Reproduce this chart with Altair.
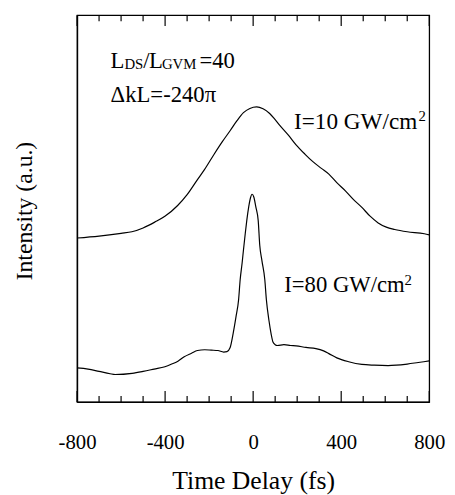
import altair as alt
import pandas as pd

# --- data ---
t_low = [-800, -700, -600, -551, -500, -447, -401, -343, -300, -253, -222, -178,
         -140, -104, -75, -44, -15, 16, 45, 75, 100, 120, 160, 195, 235, 270, 310,
         344, 380, 419, 455, 494, 530, 568, 605, 643, 700, 778, 800]
i_low = [42.4, 42.9, 43.6, 44.0, 45.0, 46.5, 48.0, 50.8, 53.6, 57.5, 60.0, 64.0,
         67.3, 70.2, 72.6, 74.8, 75.9, 76.3, 75.8, 74.6, 73.0, 71.6, 69.0, 66.5, 64.1,
         62.2, 60.4, 58.9, 56.7, 54.6, 52.4, 50.3, 48.1, 46.3, 45.2, 44.6, 44.0, 43.5, 43.2]

t_high = [-800, -750, -700, -650, -627, -550, -500, -450, -401, -370, -340, -313,
          -280, -253, -220, -190, -160, -134, -119, -105, -90, -78, -66, -59, -50,
          -44, -36, -29, -20, -12, -5, 3, 12, 23, 30, 40, 53, 60, 72, 82, 90, 100,
          110, 140, 170, 195, 240, 285, 320, 344, 380, 434, 494, 550, 613, 650,
          700, 750, 800]
i_high = [8.8, 8.5, 7.9, 7.3, 7.1, 7.4, 7.9, 8.5, 9.1, 9.8, 10.6, 11.7,
          12.6, 13.3, 13.5, 13.4, 13.3, 12.9, 13.0, 14.0, 18.0, 22.0, 26.5, 31.6, 36.0,
          39.3, 43.5, 46.9, 50.5, 52.8, 53.7, 53.0, 50.5, 46.9, 40.5, 36.5, 31.6, 26.5, 21.0, 17.5, 15.5, 14.8,
          14.6, 14.8, 14.6, 14.5, 14.1, 13.8, 13.2, 12.5, 11.4, 10.4, 9.7, 9.5, 9.4, 9.5,
          9.8, 10.2, 10.6]

major_ticks = [-800, -400, 0, 400, 800]
minor_ticks = [-700, -600, -500, -300, -200, -100, 100, 200, 300, 500, 600, 700]

FONT = "Liberation Serif"
W, H = 357, 392

df = pd.concat([
    pd.DataFrame({"t": t_low, "i": i_low, "s": "low"}),
    pd.DataFrame({"t": t_high, "i": i_high, "s": "high"}),
])

xscale = alt.Scale(domain=[-800, 800], nice=False, zero=False)
yscale = alt.Scale(domain=[0, 100], nice=False, zero=False)

lines = alt.Chart(df).mark_line(color="black", strokeWidth=1.2, interpolate="monotone").encode(
    x=alt.X("t:Q", scale=xscale,
            axis=alt.Axis(values=major_ticks, ticks=False, domain=True, domainColor="black",
                          domainWidth=1.3, grid=False,
                          labelExpr="'' + datum.value",
                          labelFont=FONT, labelFontSize=21, labelColor="black",
                          labelPadding=30, title="Time Delay (fs)", titleFont=FONT,
                          titleFontSize=26, titleFontWeight="normal", titleColor="black",
                          titlePadding=16, labelFlush=False)),
    y=alt.Y("i:Q", scale=yscale,
            axis=alt.Axis(labels=False, ticks=False, domain=True, domainColor="black",
                          domainWidth=1.3, grid=False,
                          title="Intensity (a.u.)", titleFont=FONT, titleFontSize=24,
                          titleFontWeight="normal", titleColor="black",
                          titleX=-41, titleY=198)),
    detail="s:N",
)

def tick_layer(vals, length):
    d = pd.DataFrame({"t": vals})
    bottom = alt.Chart(d).mark_rule(color="black", strokeWidth=1.2).encode(
        x=alt.X("t:Q", scale=xscale), y=alt.value(H), y2=alt.value(H - length))
    top = alt.Chart(d).mark_rule(color="black", strokeWidth=1.2).encode(
        x=alt.X("t:Q", scale=xscale), y=alt.value(0), y2=alt.value(length))
    return bottom + top

def label(txt, x, y, size=23):
    return alt.Chart(pd.DataFrame({"txt": [txt]})).mark_text(
        font=FONT, fontSize=size, align="left", baseline="alphabetic", color="black"
    ).encode(x=alt.value(x), y=alt.value(y), text="txt:N")

texts = [
    label("L", 34, 53), label("DS", 48, 55, 15), label("/", 67, 53),
    label("L", 73, 53), label("GVM", 86, 55, 15), label("=40", 124, 53),
    label("ΔkL=-240π", 34, 88),
    label("I=10 GW/cm", 220, 115, 23.5), label("2", 346, 107, 15),
    label("I=80 GW/cm", 210, 281, 23), label("2", 332, 273, 15),
]

chart = alt.layer(lines, tick_layer(major_ticks, 11),
                  tick_layer(minor_ticks, 6), *texts).properties(
    width=W, height=H,
    autosize=alt.AutoSizeParams(type="none"),
    padding={"left": 70, "top": 4, "right": 18, "bottom": 91},
).configure(background="white").configure_view(stroke="black", strokeWidth=1.3)

chart.save("out.html", embed_options={"renderer": "svg", "actions": False})
